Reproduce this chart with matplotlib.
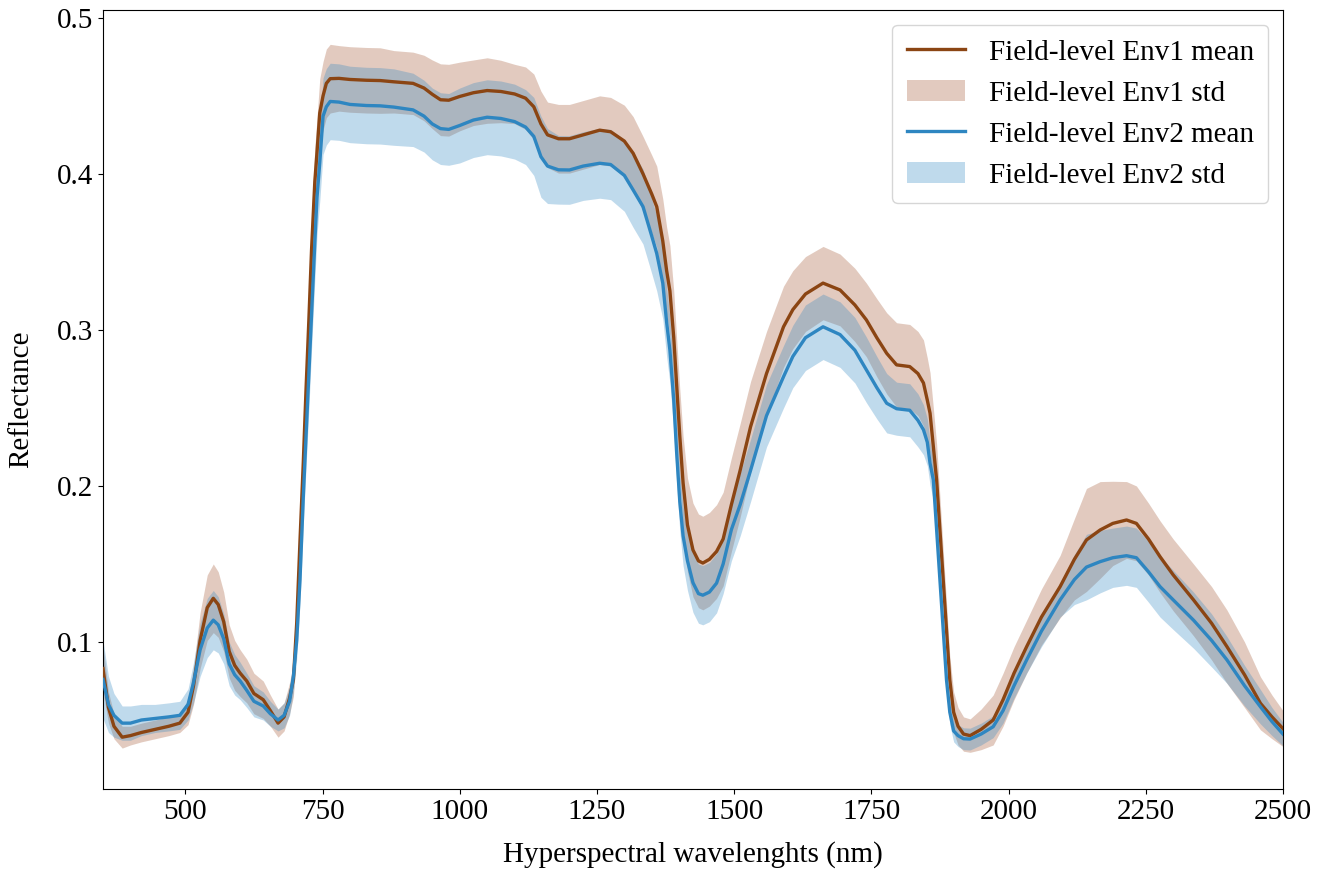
import numpy as np
import matplotlib
matplotlib.use("Agg")
import matplotlib.pyplot as plt

plt.rcParams["font.family"] = ["Liberation Serif", "DejaVu Serif"]
plt.rcParams["font.size"] = 21

# wavelength (nm)
wavelengths = [
    350, 360, 370, 385, 400, 420, 445, 470, 490, 505, 515, 527, 540, 551, 560,
    570, 580, 590, 600, 612, 625, 642, 655, 669, 680, 690, 697, 703, 709, 715,
    720, 725, 730, 736, 740, 745, 751, 757, 764, 780, 800, 830, 855, 880, 915,
    935, 950, 965, 980, 1000, 1025, 1050, 1075, 1100, 1120, 1135, 1148, 1160, 1180, 1200,
    1225, 1255, 1275, 1300, 1316, 1334, 1350, 1359, 1370, 1377, 1383, 1390, 1395, 1401, 1407,
    1415, 1425, 1435, 1443, 1455, 1468, 1480, 1495, 1511, 1530, 1559, 1590, 1607, 1630, 1662,
    1693, 1720, 1741, 1760, 1778, 1796, 1820, 1835, 1845, 1852, 1857, 1863, 1869, 1875, 1881,
    1887, 1893, 1900, 1908, 1918, 1930, 1950, 1972, 1990, 2010, 2033, 2060, 2094, 2120, 2142,
    2167, 2190, 2215, 2233, 2255, 2276, 2300, 2337, 2370, 2398, 2430, 2459, 2480, 2500,
]

# Field-level Env1
env1_mean = [
    0.083, 0.058, 0.046, 0.039, 0.040, 0.042, 0.044, 0.046, 0.048, 0.055, 0.072, 0.101, 0.122, 0.128, 0.124,
    0.113, 0.094, 0.085, 0.080, 0.075, 0.067, 0.063, 0.056, 0.048, 0.052, 0.064, 0.076, 0.112, 0.165, 0.215,
    0.262, 0.305, 0.351, 0.395, 0.414, 0.439, 0.450, 0.458, 0.461, 0.4612, 0.4605, 0.4600, 0.4598, 0.459, 0.458,
    0.455, 0.451, 0.4475, 0.4472, 0.4496, 0.452, 0.4534, 0.4528, 0.4512, 0.4485, 0.443, 0.432, 0.425, 0.4225, 0.4225,
    0.425, 0.428, 0.427, 0.421, 0.4132, 0.400, 0.387, 0.379, 0.357, 0.338, 0.325, 0.295, 0.266, 0.232, 0.202,
    0.175, 0.159, 0.152, 0.1506, 0.153, 0.158, 0.166, 0.188, 0.210, 0.238, 0.272, 0.302, 0.313, 0.323, 0.330,
    0.3256, 0.316, 0.3064, 0.295, 0.285, 0.2776, 0.2765, 0.272, 0.266, 0.255, 0.2466, 0.225, 0.2038, 0.172, 0.1397,
    0.108, 0.0756, 0.055, 0.046, 0.041, 0.040, 0.044, 0.050, 0.063, 0.080, 0.097, 0.116, 0.1355, 0.153, 0.1654,
    0.1718, 0.176, 0.1782, 0.176, 0.166, 0.1547, 0.143, 0.127, 0.112, 0.097, 0.079, 0.0607, 0.052, 0.0445,
]
env1_std = [
    0.015, 0.010, 0.008, 0.007, 0.006, 0.006, 0.006, 0.006, 0.006, 0.008, 0.012, 0.018, 0.021, 0.022, 0.021,
    0.019, 0.017, 0.016, 0.015, 0.014, 0.013, 0.012, 0.010, 0.009, 0.009, 0.010, 0.011, 0.013, 0.016, 0.018,
    0.020, 0.021, 0.022, 0.022, 0.022, 0.022, 0.022, 0.022, 0.022, 0.021, 0.021, 0.021, 0.021, 0.020, 0.020,
    0.021, 0.022, 0.023, 0.023, 0.022, 0.021, 0.021, 0.020, 0.019, 0.020, 0.021, 0.021, 0.021, 0.022, 0.022,
    0.022, 0.022, 0.022, 0.023, 0.0235, 0.024, 0.025, 0.026, 0.027, 0.028, 0.029, 0.030, 0.030, 0.030, 0.030,
    0.030, 0.030, 0.030, 0.030, 0.030, 0.030, 0.030, 0.030, 0.030, 0.029, 0.027, 0.026, 0.025, 0.024, 0.0235,
    0.023, 0.0235, 0.0236, 0.025, 0.026, 0.027, 0.027, 0.027, 0.0276, 0.027, 0.026, 0.025, 0.023, 0.021, 0.019,
    0.017, 0.015, 0.013, 0.012, 0.011, 0.0107, 0.013, 0.016, 0.017, 0.017, 0.017, 0.018, 0.020, 0.026, 0.033,
    0.031, 0.027, 0.0246, 0.024, 0.023, 0.023, 0.023, 0.023, 0.0235, 0.0235, 0.021, 0.017, 0.014, 0.0115,
]

# Field-level Env2
env2_mean = [
    0.076, 0.060, 0.053, 0.048, 0.048, 0.050, 0.051, 0.052, 0.053, 0.060, 0.074, 0.095, 0.109, 0.114, 0.111,
    0.102, 0.086, 0.079, 0.075, 0.069, 0.062, 0.059, 0.054, 0.050, 0.053, 0.062, 0.078, 0.101, 0.140, 0.193,
    0.232, 0.270, 0.310, 0.356, 0.385, 0.407, 0.437, 0.443, 0.4464, 0.446, 0.4445, 0.4438, 0.4436, 0.4428, 0.441,
    0.437, 0.432, 0.429, 0.4285, 0.431, 0.4345, 0.4363, 0.4355, 0.4335, 0.430, 0.424, 0.411, 0.405, 0.4026, 0.4025,
    0.405, 0.4068, 0.406, 0.399, 0.3897, 0.379, 0.360, 0.349, 0.330, 0.305, 0.287, 0.255, 0.223, 0.190, 0.168,
    0.152, 0.138, 0.131, 0.130, 0.132, 0.1377, 0.150, 0.172, 0.188, 0.210, 0.245, 0.270, 0.283, 0.295, 0.302,
    0.297, 0.287, 0.2744, 0.263, 0.253, 0.2495, 0.2485, 0.242, 0.236, 0.228, 0.2145, 0.2038, 0.172, 0.1397, 0.108,
    0.0756, 0.055, 0.043, 0.040, 0.038, 0.0378, 0.041, 0.0457, 0.056, 0.072, 0.0885, 0.107, 0.127, 0.140, 0.148,
    0.1515, 0.154, 0.1553, 0.154, 0.145, 0.1355, 0.127, 0.114, 0.101, 0.0885, 0.072, 0.0585, 0.049, 0.041,
]
env2_std = [
    0.025, 0.018, 0.014, 0.011, 0.011, 0.010, 0.009, 0.009, 0.009, 0.010, 0.013, 0.017, 0.019, 0.019, 0.018,
    0.016, 0.014, 0.013, 0.012, 0.011, 0.010, 0.009, 0.008, 0.007, 0.008, 0.009, 0.010, 0.012, 0.015, 0.018,
    0.020, 0.022, 0.023, 0.024, 0.024, 0.0245, 0.0245, 0.0245, 0.0245, 0.0245, 0.0245, 0.0245, 0.0245, 0.0245, 0.0235,
    0.023, 0.023, 0.023, 0.023, 0.024, 0.024, 0.024, 0.024, 0.024, 0.024, 0.025, 0.026, 0.024, 0.022, 0.022,
    0.022, 0.0224, 0.0225, 0.023, 0.024, 0.024, 0.024, 0.024, 0.023, 0.022, 0.021, 0.020, 0.020, 0.019, 0.019,
    0.019, 0.019, 0.019, 0.019, 0.019, 0.019, 0.019, 0.020, 0.020, 0.020, 0.020, 0.020, 0.020, 0.021, 0.021,
    0.021, 0.021, 0.021, 0.020, 0.019, 0.017, 0.017, 0.017, 0.016, 0.015, 0.014, 0.013, 0.012, 0.011, 0.010,
    0.009, 0.008, 0.007, 0.007, 0.007, 0.007, 0.007, 0.007, 0.008, 0.008, 0.0085, 0.010, 0.011, 0.016, 0.021,
    0.020, 0.019, 0.019, 0.019, 0.0195, 0.0195, 0.019, 0.018, 0.017, 0.015, 0.013, 0.011, 0.009, 0.0075,
]

wl = np.array(wavelengths)
m1, s1 = np.array(env1_mean), np.array(env1_std)
m2, s2 = np.array(env2_mean), np.array(env2_std)

c1_line, c1_fill = "#8B4513", "#A0522D"
c2_line, c2_fill = "#2E86C1", "#2E86C1"

fig = plt.figure(figsize=(13.27, 8.72), dpi=100)
ax = fig.add_axes([0.0776, 0.0952, 0.8892, 0.8933])

l1, = ax.plot(wl, m1, color=c1_line, lw=2.4, zorder=3, label="Field-level Env1 mean")
f1 = ax.fill_between(wl, m1 - s1, m1 + s1, color=c1_fill, alpha=0.3, lw=0, zorder=1,
                     label="Field-level Env1 std")
l2, = ax.plot(wl, m2, color=c2_line, lw=2.4, zorder=4, label="Field-level Env2 mean")
f2 = ax.fill_between(wl, m2 - s2, m2 + s2, color=c2_fill, alpha=0.3, lw=0, zorder=2,
                     label="Field-level Env2 std")

ax.set_xlim(350, 2500)
ax.set_ylim(0.0058, 0.505)
ax.set_xticks([500, 750, 1000, 1250, 1500, 1750, 2000, 2250, 2500])
ax.set_yticks([0.1, 0.2, 0.3, 0.4, 0.5])
ax.tick_params(labelsize=21)
ax.set_xlabel("Hyperspectral wavelenghts (nm)", labelpad=12)
ax.set_ylabel("Reflectance", labelpad=16)
ax.legend(handles=[l1, f1, l2, f2], loc="upper right", borderaxespad=0.5,
          borderpad=0.5)

fig.savefig("out.png", dpi=100)
